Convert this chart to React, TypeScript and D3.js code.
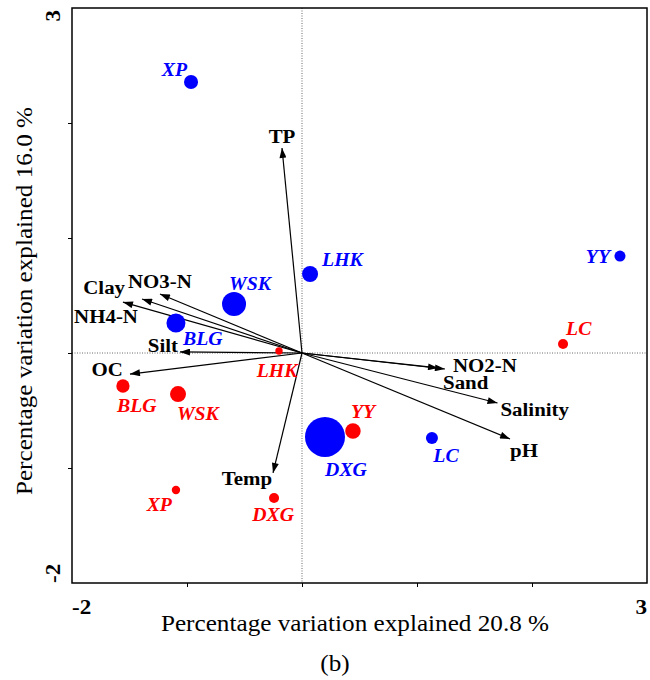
import React, { useEffect, useRef } from 'react';
import * as d3 from 'd3';

const width = 650;
const height = 680;
const plot = { left: 72, right: 647, top: 8, bottom: 583 };
const font = '"Liberation Serif", "Times New Roman", serif';

// sites (circle size = relative abundance)
const sites = ['XP', 'LHK', 'WSK', 'BLG', 'YY', 'DXG', 'LC'];
const blueX = [-0.965, 0.07, -0.591, -1.096, 2.765, 0.2, 1.13];
const blueY = [2.357, 0.687, 0.426, 0.261, 0.843, -0.73, -0.739];
const blueSize = [12.3, 16, 36, 22.6, 7.6, 100, 9];
const redX = [-1.096, -0.2, -1.078, -1.557, 0.443, -0.243, 2.27];
const redY = [-1.191, 0.017, -0.357, -0.287, -0.678, -1.261, 0.078];
const redSize = [4.4, 3.4, 16, 11, 15, 6.3, 6.3];

// environmental variables (arrow tips)
const envNames = ['TP', 'Clay', 'NO3-N', 'NH4-N', 'Silt', 'OC', 'Temp', 'NO2-N', 'Sand', 'Salinity', 'pH'];
const envX = [-0.174, -1.391, -1.235, -1.557, -1.061, -1.496, -0.252, 1.243, 1.183, 1.7, 1.809];
const envY = [1.783, 0.47, 0.513, 0.443, 0.009, -0.183, -1.043, -0.139, -0.13, -0.435, -0.748];

const xTicks = [-1, 0, 1, 2];
const yTicks = [-1, 0, 1, 2];

// label placement (px from mark)
const envLabelPos = {
  TP: [0, -5, 'middle'], Clay: [-17, -5, 'end'], 'NO3-N': [-32, -6, 'start'], 'NH4-N': [15, 21, 'end'],
  Silt: [-2, 0, 'end'], OC: [-7, 2, 'end'], Temp: [-1, 12, 'end'], 'NO2-N': [8, 3, 'start'],
  Sand: [5, 21, 'start'], Salinity: [3, 13, 'start'], pH: [0, 18, 'start']
};
const blueLabelPos = {
  XP: [-4, -6, 'end'], LHK: [12, -8, 'start'], WSK: [-5, -14, 'start'], BLG: [7, 22, 'start'],
  YY: [-10, 7, 'end'], DXG: [21, 39, 'middle'], LC: [14, 24, 'middle']
};
const redLabelPos = {
  XP: [-4, 21, 'end'], LHK: [-2, 26, 'middle'], WSK: [-1, 26, 'start'], BLG: [-6, 26, 'start'],
  YY: [-2, -13, 'start'], DXG: [-1, 23, 'middle'], LC: [3, -9, 'start']
};

const x = d3.scaleLinear().domain([-2, 3]).range([plot.left, plot.right]);
const y = d3.scaleLinear().domain([-2, 3]).range([plot.bottom, plot.top]);
const r = d3.scaleSqrt().domain([0, 100]).range([0, 20]);

// text placed at (tx, ty), optionally rotated, stretched along its baseline
const Label = ({ tx, ty, rot = 0, anchor = 'start', sx = 1.1, children, ...rest }) => (
  <text transform={`translate(${tx},${ty}) rotate(${rot}) scale(${sx},1)`} textAnchor={anchor}
    fontFamily={font} {...rest}>{children}</text>
);

export default function App() {
  const xAxisRef = useRef(null);
  const yAxisRef = useRef(null);

  useEffect(() => {
    const xa = d3.axisBottom(x).tickValues(xTicks).tickSize(4).tickSizeOuter(0).tickFormat(() => '');
    const ya = d3.axisLeft(y).tickValues(yTicks).tickSize(4).tickSizeOuter(0).tickFormat(() => '');
    d3.select(xAxisRef.current).call(xa).call(g => g.select('.domain').remove());
    d3.select(yAxisRef.current).call(ya).call(g => g.select('.domain').remove());
  }, []);

  const renderSites = (xs, ys, sz, color, pos) =>
    sites.map((s, i) => {
      const cx = x(xs[i]);
      const cy = y(ys[i]);
      const [dx, dy, anchor] = pos[s];
      return (
        <g key={color + s}>
          <circle cx={cx} cy={cy} r={r(sz[i])} fill={color} />
          <Label tx={cx + dx} ty={cy + dy} anchor={anchor} fill={color} fontSize={18}
            fontWeight="bold" fontStyle="italic">{s}</Label>
        </g>
      );
    });

  return (
    <svg width={width} height={height} style={{ position: 'absolute', left: 0, top: 0, background: '#fff' }}>
      <defs>
        <marker id="head" viewBox="0 0 10 7" refX={10} refY={3.5} markerWidth={11} markerHeight={7}
          markerUnits="userSpaceOnUse" orient="auto">
          <path d="M0,0 L10,3.5 L0,7 Z" fill="#000" />
        </marker>
      </defs>

      {/* zero lines */}
      <line x1={x(0)} x2={x(0)} y1={plot.top} y2={plot.bottom} stroke="#444" strokeWidth={0.8} strokeDasharray="1,1.5" />
      <line x1={plot.left} x2={plot.right} y1={y(0)} y2={y(0)} stroke="#444" strokeWidth={0.8} strokeDasharray="1,1.5" />

      <g ref={xAxisRef} transform={`translate(0, ${plot.bottom})`} />
      <g ref={yAxisRef} transform={`translate(${plot.left}, 0)`} />
      <rect x={plot.left} y={plot.top} width={plot.right - plot.left} height={plot.bottom - plot.top}
        fill="none" stroke="#000" strokeWidth={1.5} />

      {/* environmental arrows */}
      {envNames.map((n, i) => {
        const tx = x(envX[i]);
        const ty = y(envY[i]);
        const [dx, dy, anchor] = envLabelPos[n];
        return (
          <g key={n}>
            <line x1={x(0)} y1={y(0)} x2={tx} y2={ty} stroke="#000" strokeWidth={1.2} markerEnd="url(#head)" />
            <Label tx={tx + dx} ty={ty + dy} anchor={anchor} fontSize={19} fontWeight="bold">{n}</Label>
          </g>
        );
      })}

      {renderSites(blueX, blueY, blueSize, '#0000ff', blueLabelPos)}
      {renderSites(redX, redY, redSize, '#ff0000', redLabelPos)}

      {/* end tick labels */}
      <g fontWeight="bold" fontSize={21}>
        <Label tx={x(-2)} ty={614}>-2</Label>
        <Label tx={x(3)} ty={614} anchor="end">3</Label>
        <Label tx={60} ty={y(3) + 2} rot={-90} anchor="end">3</Label>
        <Label tx={60} ty={y(-2)} rot={-90}>-2</Label>
      </g>

      <g fontSize={24}>
        <Label tx={355} ty={631} anchor="middle" sx={1.05}>Percentage variation explained 20.8 %</Label>
        <Label tx={32} ty={301} rot={-90} anchor="middle" sx={1.05}>Percentage variation explained 16.0 %</Label>
        <Label tx={335} ty={671} anchor="middle" sx={1.05}>(b)</Label>
      </g>
    </svg>
  );
}
